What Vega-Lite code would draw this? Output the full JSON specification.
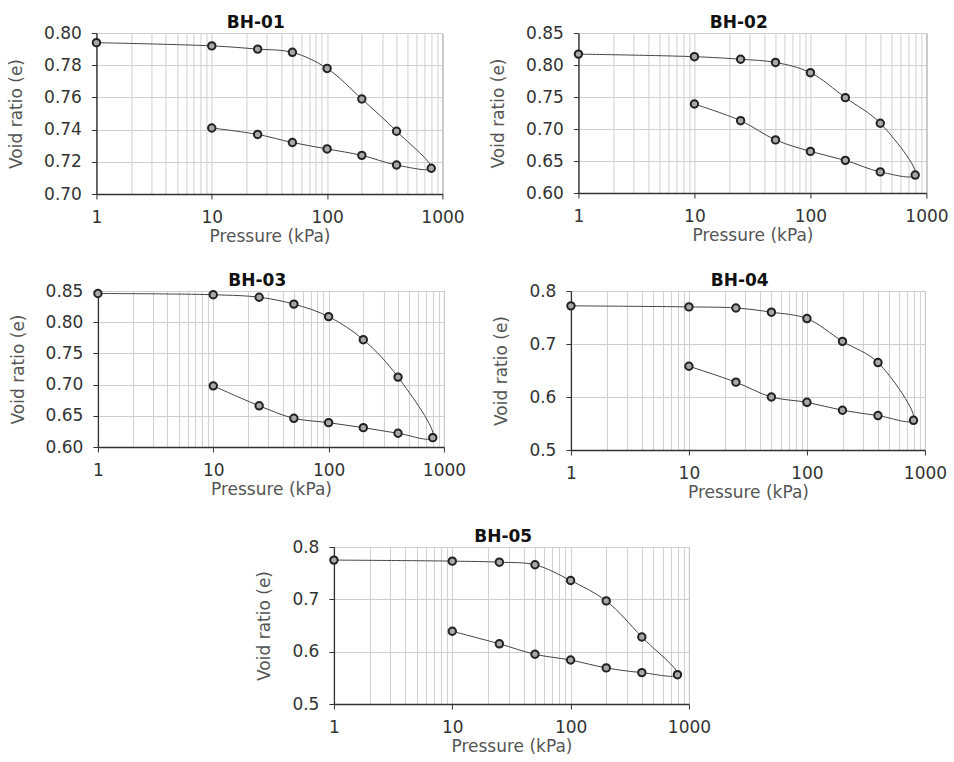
{
  "$schema": "https://vega.github.io/schema/vega-lite/v6.json",
  "background": "white",
  "padding": {"left": 7, "top": 13, "right": 4, "bottom": 2},
  "config": {
    "font": "DejaVu Sans",
    "view": {"stroke": "#8a8a8a", "strokeWidth": 1},
    "title": {"fontSize": 17, "fontWeight": "bold", "color": "#111", "offset": -8, "font": "DejaVu Sans", "frame": "bounds", "dx": 20},
    "axis": {
      "labelFontSize": 17, "titleFontSize": 17, "labelColor": "#333", "titleColor": "#555",
      "titleFontWeight": "normal", "domainColor": "#333", "domainWidth": 1.3, "tickColor": "#333",
      "gridColor": "#cfcfcf", "gridWidth": 1, "tickSize": 5, "labelFont": "DejaVu Sans", "titleFont": "DejaVu Sans"
    },
    "axisX": {"labelPadding": 10, "titlePadding": 3},
    "axisY": {"labelPadding": 10, "titlePadding": 18}
  },
  "datasets": {
    "bh01": [
      {"p": 1, "e": 0.794, "step": 1}, {"p": 10, "e": 0.792, "step": 2}, {"p": 25, "e": 0.790, "step": 3},
      {"p": 50, "e": 0.788, "step": 4}, {"p": 100, "e": 0.778, "step": 5}, {"p": 200, "e": 0.759, "step": 6},
      {"p": 400, "e": 0.739, "step": 7}, {"p": 800, "e": 0.716, "step": 8}, {"p": 400, "e": 0.718, "step": 9},
      {"p": 200, "e": 0.724, "step": 10}, {"p": 100, "e": 0.728, "step": 11}, {"p": 50, "e": 0.732, "step": 12},
      {"p": 25, "e": 0.737, "step": 13}, {"p": 10, "e": 0.741, "step": 14}
    ],
    "bh02": [
      {"p": 1, "e": 0.817, "step": 1}, {"p": 10, "e": 0.813, "step": 2}, {"p": 25, "e": 0.809, "step": 3},
      {"p": 50, "e": 0.804, "step": 4}, {"p": 100, "e": 0.788, "step": 5}, {"p": 200, "e": 0.749, "step": 6},
      {"p": 400, "e": 0.709, "step": 7}, {"p": 800, "e": 0.628, "step": 8}, {"p": 400, "e": 0.633, "step": 9},
      {"p": 200, "e": 0.651, "step": 10}, {"p": 100, "e": 0.665, "step": 11}, {"p": 50, "e": 0.683, "step": 12},
      {"p": 25, "e": 0.713, "step": 13}, {"p": 10, "e": 0.739, "step": 14}
    ],
    "bh03": [
      {"p": 1, "e": 0.846, "step": 1}, {"p": 10, "e": 0.844, "step": 2}, {"p": 25, "e": 0.840, "step": 3},
      {"p": 50, "e": 0.829, "step": 4}, {"p": 100, "e": 0.809, "step": 5}, {"p": 200, "e": 0.772, "step": 6},
      {"p": 400, "e": 0.712, "step": 7}, {"p": 800, "e": 0.615, "step": 8}, {"p": 400, "e": 0.622, "step": 9},
      {"p": 200, "e": 0.631, "step": 10}, {"p": 100, "e": 0.639, "step": 11}, {"p": 50, "e": 0.646, "step": 12},
      {"p": 25, "e": 0.666, "step": 13}, {"p": 10, "e": 0.698, "step": 14}
    ],
    "bh04": [
      {"p": 1, "e": 0.772, "step": 1}, {"p": 10, "e": 0.770, "step": 2}, {"p": 25, "e": 0.768, "step": 3},
      {"p": 50, "e": 0.760, "step": 4}, {"p": 100, "e": 0.748, "step": 5}, {"p": 200, "e": 0.705, "step": 6},
      {"p": 400, "e": 0.665, "step": 7}, {"p": 800, "e": 0.556, "step": 8}, {"p": 400, "e": 0.565, "step": 9},
      {"p": 200, "e": 0.575, "step": 10}, {"p": 100, "e": 0.590, "step": 11}, {"p": 50, "e": 0.600, "step": 12},
      {"p": 25, "e": 0.628, "step": 13}, {"p": 10, "e": 0.658, "step": 14}
    ],
    "bh05": [
      {"p": 1, "e": 0.775, "step": 1}, {"p": 10, "e": 0.773, "step": 2}, {"p": 25, "e": 0.771, "step": 3},
      {"p": 50, "e": 0.766, "step": 4}, {"p": 100, "e": 0.736, "step": 5}, {"p": 200, "e": 0.697, "step": 6},
      {"p": 400, "e": 0.628, "step": 7}, {"p": 800, "e": 0.556, "step": 8}, {"p": 400, "e": 0.560, "step": 9},
      {"p": 200, "e": 0.569, "step": 10}, {"p": 100, "e": 0.584, "step": 11}, {"p": 50, "e": 0.595, "step": 12},
      {"p": 25, "e": 0.615, "step": 13}, {"p": 10, "e": 0.639, "step": 14}
    ]
  },
  "spacing": 26,
  "center": true,
  "vconcat": [
    {
      "spacing": 23,
      "hconcat": [
        {
          "title": "BH-01", "width": 346, "height": 161, "data": {"name": "bh01"},
          "encoding": {
            "x": {"field": "p", "type": "quantitative", "scale": {"type": "log", "domain": [1, 1000], "nice": false},
              "axis": {"title": "Pressure (kPa)", "values": [1,2,3,4,5,6,7,8,9,10,20,30,40,50,60,70,80,90,100,200,300,400,500,600,700,800,900,1000],
                "format": "d", "labelExpr": "indexof([1,10,100,1000], datum.value) >= 0 ? datum.label : ''",
                "tickOpacity": {"condition": {"test": "indexof([1,10,100,1000], datum.value) >= 0", "value": 1}, "value": 0},
                "labelOverlap": false, "labelFlush": false}},
            "y": {"field": "e", "type": "quantitative", "scale": {"domain": [0.70, 0.80], "nice": false, "zero": false},
              "axis": {"title": "Void ratio (e)", "values": [0.70, 0.72, 0.74, 0.76, 0.78, 0.80], "format": ".2f"}}
          },
          "layer": [
            {"mark": {"type": "line", "interpolate": "catmull-rom", "color": "#444", "strokeWidth": 1}, "encoding": {"order": {"field": "step", "type": "quantitative"}}},
            {"mark": {"type": "circle", "size": 55, "fill": "#a8a8a8", "fillOpacity": 1, "stroke": "#222", "strokeWidth": 2}}
          ]
        },
        {
          "title": "BH-02", "width": 348, "height": 160, "data": {"name": "bh02"},
          "encoding": {
            "x": {"field": "p", "type": "quantitative", "scale": {"type": "log", "domain": [1, 1000], "nice": false},
              "axis": {"title": "Pressure (kPa)", "values": [1,2,3,4,5,6,7,8,9,10,20,30,40,50,60,70,80,90,100,200,300,400,500,600,700,800,900,1000],
                "format": "d", "labelExpr": "indexof([1,10,100,1000], datum.value) >= 0 ? datum.label : ''",
                "tickOpacity": {"condition": {"test": "indexof([1,10,100,1000], datum.value) >= 0", "value": 1}, "value": 0},
                "labelOverlap": false, "labelFlush": false}},
            "y": {"field": "e", "type": "quantitative", "scale": {"domain": [0.60, 0.85], "nice": false, "zero": false},
              "axis": {"title": "Void ratio (e)", "values": [0.60, 0.65, 0.70, 0.75, 0.80, 0.85], "format": ".2f"}}
          },
          "layer": [
            {"mark": {"type": "line", "interpolate": "catmull-rom", "color": "#444", "strokeWidth": 1}, "encoding": {"order": {"field": "step", "type": "quantitative"}}},
            {"mark": {"type": "circle", "size": 55, "fill": "#a8a8a8", "fillOpacity": 1, "stroke": "#222", "strokeWidth": 2}}
          ]
        }
      ]
    },
    {
      "spacing": 25,
      "hconcat": [
        {
          "title": "BH-03", "width": 346, "height": 156, "data": {"name": "bh03"},
          "encoding": {
            "x": {"field": "p", "type": "quantitative", "scale": {"type": "log", "domain": [1, 1000], "nice": false},
              "axis": {"title": "Pressure (kPa)", "values": [1,2,3,4,5,6,7,8,9,10,20,30,40,50,60,70,80,90,100,200,300,400,500,600,700,800,900,1000],
                "format": "d", "labelExpr": "indexof([1,10,100,1000], datum.value) >= 0 ? datum.label : ''",
                "tickOpacity": {"condition": {"test": "indexof([1,10,100,1000], datum.value) >= 0", "value": 1}, "value": 0},
                "labelOverlap": false, "labelFlush": false}},
            "y": {"field": "e", "type": "quantitative", "scale": {"domain": [0.60, 0.85], "nice": false, "zero": false},
              "axis": {"title": "Void ratio (e)", "values": [0.60, 0.65, 0.70, 0.75, 0.80, 0.85], "format": ".2f"}}
          },
          "layer": [
            {"mark": {"type": "line", "interpolate": "catmull-rom", "color": "#444", "strokeWidth": 1}, "encoding": {"order": {"field": "step", "type": "quantitative"}}},
            {"mark": {"type": "circle", "size": 55, "fill": "#a8a8a8", "fillOpacity": 1, "stroke": "#222", "strokeWidth": 2}}
          ]
        },
        {
          "title": "BH-04", "width": 354, "height": 159, "data": {"name": "bh04"},
          "encoding": {
            "x": {"field": "p", "type": "quantitative", "scale": {"type": "log", "domain": [1, 1000], "nice": false},
              "axis": {"title": "Pressure (kPa)", "values": [1,2,3,4,5,6,7,8,9,10,20,30,40,50,60,70,80,90,100,200,300,400,500,600,700,800,900,1000],
                "format": "d", "labelExpr": "indexof([1,10,100,1000], datum.value) >= 0 ? datum.label : ''",
                "tickOpacity": {"condition": {"test": "indexof([1,10,100,1000], datum.value) >= 0", "value": 1}, "value": 0},
                "labelOverlap": false, "labelFlush": false}},
            "y": {"field": "e", "type": "quantitative", "scale": {"domain": [0.5, 0.8], "nice": false, "zero": false},
              "axis": {"title": "Void ratio (e)", "values": [0.5, 0.6, 0.7, 0.8], "format": ".1f"}}
          },
          "layer": [
            {"mark": {"type": "line", "interpolate": "catmull-rom", "color": "#444", "strokeWidth": 1}, "encoding": {"order": {"field": "step", "type": "quantitative"}}},
            {"mark": {"type": "circle", "size": 55, "fill": "#a8a8a8", "fillOpacity": 1, "stroke": "#222", "strokeWidth": 2}}
          ]
        }
      ]
    },
    {
      "title": "BH-05", "width": 355, "height": 157, "data": {"name": "bh05"},
      "encoding": {
        "x": {"field": "p", "type": "quantitative", "scale": {"type": "log", "domain": [1, 1000], "nice": false},
          "axis": {"title": "Pressure (kPa)", "values": [1,2,3,4,5,6,7,8,9,10,20,30,40,50,60,70,80,90,100,200,300,400,500,600,700,800,900,1000],
            "format": "d", "labelExpr": "indexof([1,10,100,1000], datum.value) >= 0 ? datum.label : ''",
            "tickOpacity": {"condition": {"test": "indexof([1,10,100,1000], datum.value) >= 0", "value": 1}, "value": 0},
            "labelOverlap": false, "labelFlush": false}},
        "y": {"field": "e", "type": "quantitative", "scale": {"domain": [0.5, 0.8], "nice": false, "zero": false},
          "axis": {"title": "Void ratio (e)", "values": [0.5, 0.6, 0.7, 0.8], "format": ".1f"}}
      },
      "layer": [
        {"mark": {"type": "line", "interpolate": "catmull-rom", "color": "#444", "strokeWidth": 1}, "encoding": {"order": {"field": "step", "type": "quantitative"}}},
        {"mark": {"type": "circle", "size": 55, "fill": "#a8a8a8", "fillOpacity": 1, "stroke": "#222", "strokeWidth": 2}}
      ]
    }
  ]
}
